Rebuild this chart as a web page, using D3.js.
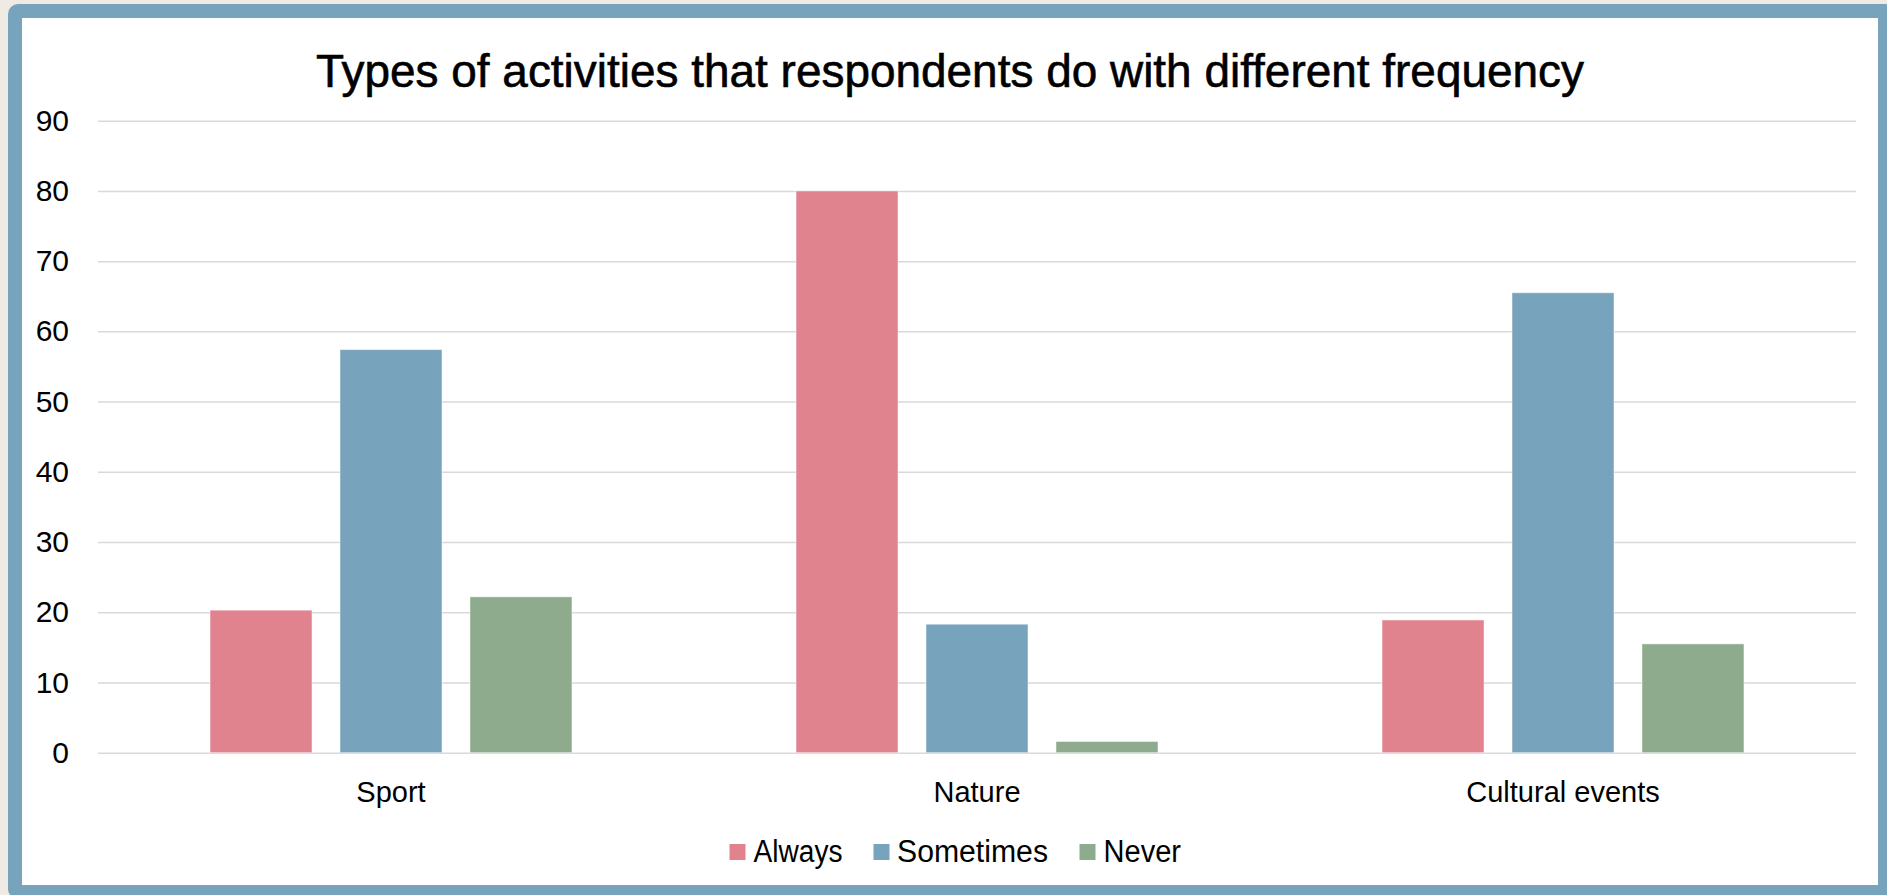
<!DOCTYPE html>
<html>
<head>
<meta charset="utf-8">
<script src="https://cdn.jsdelivr.net/npm/d3@7"></script>
<style>
  body { margin: 0; background: #efebe4; overflow: hidden; }
  #container1 { width: 1887px; height: 895px; }
</style>
</head>
<body>
<div id="container1"></div>
<script>
(function(){
    const categories = ['Sport', 'Nature', 'Cultural events'];
    const seriesNames = ['Always', 'Sometimes', 'Never'];
    const always = [20.3, 80.0, 18.9];
    const sometimes = [57.4, 18.3, 65.5];
    const never = [22.2, 1.6, 15.5];
    const yTicks = [0, 10, 20, 30, 40, 50, 60, 70, 80, 90];
    const title = 'Types of activities that respondents do with different frequency';

    const colors = ['#e1838f', '#77a3bc', '#8eab8d'];
    const seriesValues = [always, sometimes, never];

    const width = 1887;
    const height = 895;
    const margin = { top: 120.7, right: 31, bottom: 142.3, left: 98 };

    const svg = d3.select('#container1')
        .append('svg')
        .attr('width', width)
        .attr('height', height)
        .style('display', 'block');

    // frame around the chart
    svg.append('rect')
        .attr('x', 8)
        .attr('y', 4)
        .attr('width', width)
        .attr('height', height)
        .attr('rx', 10)
        .attr('fill', '#77a3bc');

    svg.append('rect')
        .attr('x', 22)
        .attr('y', 18)
        .attr('width', 1856)
        .attr('height', 867)
        .attr('fill', '#ffffff');

    // title (narrow + a bit heavier like the original)
    svg.append('text')
        .attr('x', 950)
        .attr('y', 87)
        .attr('text-anchor', 'middle')
        .attr('font-family', 'Liberation Sans, Arial, sans-serif')
        .attr('font-size', '46px')
        .attr('textLength', 1268)
        .attr('lengthAdjust', 'spacingAndGlyphs')
        .attr('fill', '#000')
        .attr('stroke', '#000')
        .attr('stroke-width', 0.6)
        .text(title);

    const x0 = d3.scaleBand()
        .domain(categories)
        .range([margin.left, width - margin.right])
        .padding(0);

    const x1 = d3.scaleBand()
        .domain(seriesNames)
        .range([0, x0.bandwidth()])
        .paddingInner(0.215)
        .paddingOuter(0.862);

    const yScale = d3.scaleLinear()
        .domain([0, 90])
        .range([height - margin.bottom, margin.top]);

    // gridlines + y labels
    const yAxis = d3.axisLeft(yScale)
        .tickValues(yTicks)
        .tickSize(-(width - margin.right - margin.left))
        .tickPadding(29)
        .tickFormat(d3.format('d'));

    const gy = svg.append('g')
        .attr('transform', `translate(${margin.left},0)`)
        .call(yAxis);
    gy.select('.domain').remove();
    gy.selectAll('.tick line')
        .attr('stroke', '#d9d9d9')
        .attr('stroke-width', 1.5);
    gy.selectAll('.tick text')
        .attr('font-family', 'Liberation Sans, Arial, sans-serif')
        .attr('font-size', '30px')
        .attr('fill', '#000');

    // bars
    const rows = categories.map((c, i) => ({
        category: c,
        values: seriesNames.map((s, j) => ({ key: s, value: seriesValues[j][i], color: colors[j] }))
    }));

    const groups = svg.selectAll('.group')
        .data(rows)
        .enter()
        .append('g')
        .attr('class', 'group')
        .attr('transform', d => `translate(${x0(d.category)},0)`);

    groups.selectAll('rect')
        .data(d => d.values)
        .enter()
        .append('rect')
        .attr('x', d => x1(d.key))
        .attr('y', d => yScale(d.value))
        .attr('width', x1.bandwidth())
        .attr('height', d => yScale(0) - yScale(d.value))
        .attr('fill', d => d.color)
        .attr('stroke', '#ffffff')
        .attr('stroke-opacity', 0.5)
        .attr('stroke-width', 1);

    // category labels
    const xAxis = d3.axisBottom(x0).tickSize(0).tickPadding(0);
    const gx = svg.append('g')
        .attr('transform', `translate(0,${yScale(0)})`)
        .call(xAxis);
    gx.select('.domain').remove();
    gx.selectAll('.tick text')
        .attr('y', 49.3)
        .attr('dy', 0)
        .attr('font-family', 'Liberation Sans, Arial, sans-serif')
        .attr('font-size', '29px')
        .attr('fill', '#000');

    // legend
    const legendItems = [
        { name: 'Always', sx: 729.5, tx: 753.5, tw: 89 },
        { name: 'Sometimes', sx: 873.5, tx: 897, tw: 151 },
        { name: 'Never', sx: 1079.5, tx: 1103.5, tw: 77.5 }
    ];

    const legend = svg.append('g');
    legendItems.forEach((item, i) => {
        legend.append('rect')
            .attr('x', item.sx)
            .attr('y', 844)
            .attr('width', 16)
            .attr('height', 16)
            .attr('fill', colors[i]);
        legend.append('text')
            .attr('x', item.tx)
            .attr('y', 862.3)
            .attr('font-family', 'Liberation Sans, Arial, sans-serif')
            .attr('font-size', '31px')
            .attr('textLength', item.tw)
            .attr('lengthAdjust', 'spacingAndGlyphs')
            .attr('fill', '#000')
            .text(item.name);
    });
})();
</script>
</body>
</html>
